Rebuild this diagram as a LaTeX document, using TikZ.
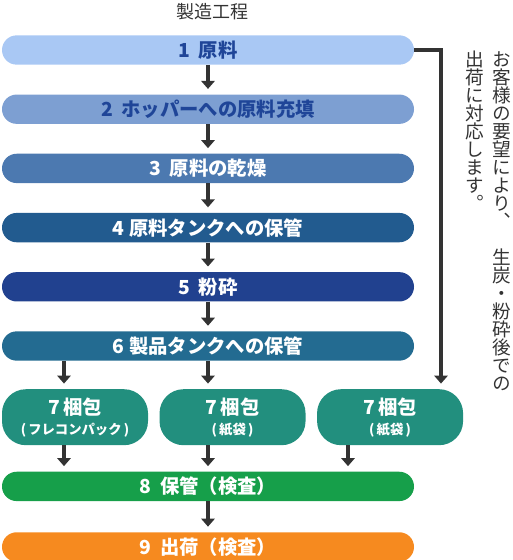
\documentclass[tikz,border=0pt]{standalone}
\usepackage{fontspec}
\setmainfont{Noto Sans CJK JP}
\newfontfamily\tatefont{Noto Sans CJK JP}[RawFeature=+vert]
\usepackage{xcolor}
\usepackage{tikz}
\usetikzlibrary{arrows.meta, positioning}

\definecolor{rawcol}{HTML}{A9C8F4}
\definecolor{hoppercol}{HTML}{7D9FD2}
\definecolor{drycol}{HTML}{4C79B0}
\definecolor{tankcol}{HTML}{225B8F}
\definecolor{crushcol}{HTML}{21418F}
\definecolor{prodcol}{HTML}{236B91}
\definecolor{packcol}{HTML}{228F7E}
\definecolor{storecol}{HTML}{169F4A}
\definecolor{shipcol}{HTML}{F68A1F}
\definecolor{darkblue}{HTML}{1F4598}
\definecolor{arrowgray}{HTML}{333333}

\newcommand{\gap}{\hspace{0.45em}}

\begin{document}
\begin{tikzpicture}[
    node distance=22pt,
    bar/.style={rectangle, rounded corners=11pt, minimum width=309pt, minimum height=22pt, inner sep=0pt, align=center, font=\bfseries\fontsize{14.5pt}{16pt}\selectfont, text=white},
    pack/.style={rectangle, rounded corners=18pt, fill=packcol, minimum width=109.5pt, minimum height=42pt, inner sep=0pt, align=center, font=\bfseries\fontsize{14.5pt}{15pt}\selectfont, text=white},
    note/.style={inner sep=0pt, align=center, text=arrowgray, font=\tatefont\fontsize{14pt}{13.5pt}\selectfont},
    arrow/.style={line width=3pt, draw=arrowgray, -{Triangle[width=10pt,length=6pt]}, shorten >=4pt},
]
    \useasboundingbox (0,0) rectangle (384pt,-420pt);

    \node[text=arrowgray, font=\fontsize{13.5pt}{14pt}\selectfont] (title) at (159pt,-9pt) {製造工程};

    \node[bar, fill=rawcol, text=darkblue] (raw) at (156pt,-37.5pt) {1\gap 原料};
    \node[bar, fill=hoppercol, text=darkblue, below=of raw] (hopper) {2\gap ホッパーへの原料充填};
    \node[bar, fill=drycol, below=of hopper] (dry) {3\gap 原料の乾燥};
    \node[bar, fill=tankcol, below=of dry] (tank) {4 原料タンクへの保管};
    \node[bar, fill=crushcol, below=of tank] (crush) {5\gap 粉砕};
    \node[bar, fill=prodcol, below=of crush] (prod) {6 製品タンクへの保管};

    \node[pack, below=21pt of prod.south west, anchor=north west] (packA) {7\,梱包\\{\fontsize{10pt}{11pt}\selectfont (\,フレコンパック\,)}};
    \node[pack, right=8.25pt of packA] (packB) {7\,梱包\\{\fontsize{10pt}{11pt}\selectfont (\,紙袋\,)}};
    \node[pack, right=8.25pt of packB] (packC) {7\,梱包\\{\fontsize{10pt}{11pt}\selectfont (\,紙袋\,)}};

    \node[bar, fill=storecol, below=19.5pt of packA.south west, anchor=north west] (store) {8\gap 保管（検査）};
    \node[bar, fill=shipcol, below=23pt of store] (ship) {9\gap 出荷（検査）};

    \coordinate (colA) at (48pt,0);
    \coordinate (colC) at (261pt,0);
    \coordinate (side) at (330.75pt,0);

    \draw[arrow] (raw) -- (hopper);
    \draw[arrow] (hopper) -- (dry);
    \draw[arrow] (dry) -- (tank);
    \draw[arrow] (tank) -- (crush);
    \draw[arrow] (crush) -- (prod);
    \draw[arrow] (prod.south -| colA) -- (packA.north -| colA);
    \draw[arrow] (prod.south) -- (packB.north -| prod.south);
    \draw[arrow] (raw.east) -- (raw.east -| side) -- (packC.north -| side);
    \draw[arrow] (packA.south -| colA) -- (store.north -| colA);
    \draw[arrow] (packB.south -| store.north) -- (store.north);
    \draw[arrow] (packC.south -| colC) -- (store.north -| colC);
    \draw[arrow] (store) -- (ship);

    \node[note, anchor=north] (noteR) at (376.5pt,-38.25pt) {お\\客\\様\\の\\要\\望\\に\\よ\\り\\、\\\phantom{生}\\生\\炭\\・\\粉\\砕\\後\\で\\の};
    \node[note, anchor=north] (noteL) at (356.25pt,-38.25pt) {出\\荷\\に\\対\\応\\し\\ま\\す\\。};
\end{tikzpicture}
\end{document}
